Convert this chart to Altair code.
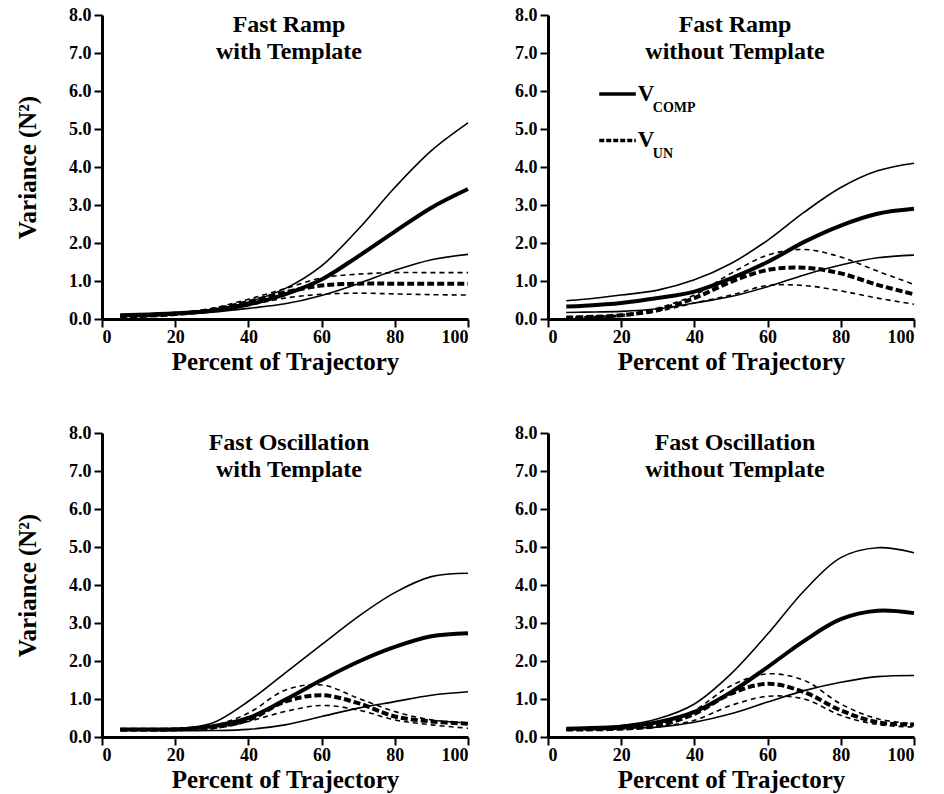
import altair as alt
import pandas as pd

FONT = "Liberation Serif"

X = [5, 10, 20, 30, 40, 50, 60, 70, 80, 90, 100]

TITLES = [
    "Fast Ramp\nwith Template",
    "Fast Ramp\nwithout Template",
    "Fast Oscillation\nwith Template",
    "Fast Oscillation\nwithout Template",
]

# Panel 1: Fast Ramp with Template
P1_COMP_MEAN = [0.10, 0.11, 0.15, 0.22, 0.38, 0.65, 1.04, 1.65, 2.30, 2.93, 3.42]
P1_COMP_HI = [0.12, 0.13, 0.17, 0.25, 0.45, 0.80, 1.40, 2.36, 3.46, 4.43, 5.16]
P1_COMP_LO = [0.08, 0.09, 0.12, 0.18, 0.28, 0.40, 0.62, 0.93, 1.28, 1.56, 1.70]
P1_UN_MEAN = [0.07, 0.08, 0.13, 0.24, 0.45, 0.70, 0.88, 0.93, 0.93, 0.93, 0.93]
P1_UN_HI = [0.08, 0.09, 0.15, 0.28, 0.52, 0.80, 1.08, 1.18, 1.22, 1.22, 1.22]
P1_UN_LO = [0.05, 0.06, 0.11, 0.20, 0.36, 0.55, 0.65, 0.68, 0.66, 0.64, 0.63]

# Panel 2: Fast Ramp without Template
P2_COMP_MEAN = [0.33, 0.35, 0.42, 0.55, 0.72, 1.07, 1.50, 2.03, 2.46, 2.77, 2.90]
P2_COMP_HI = [0.48, 0.52, 0.63, 0.76, 1.03, 1.46, 2.07, 2.81, 3.46, 3.90, 4.10]
P2_COMP_LO = [0.17, 0.18, 0.20, 0.27, 0.42, 0.59, 0.85, 1.16, 1.42, 1.61, 1.68]
P2_UN_MEAN = [0.04, 0.05, 0.10, 0.24, 0.55, 0.98, 1.29, 1.35, 1.20, 0.90, 0.65]
P2_UN_HI = [0.05, 0.06, 0.11, 0.29, 0.63, 1.20, 1.68, 1.83, 1.63, 1.26, 0.91]
P2_UN_LO = [0.03, 0.04, 0.07, 0.20, 0.42, 0.63, 0.88, 0.88, 0.74, 0.55, 0.39]

# Panel 3: Fast Oscillation with Template
P3_COMP_MEAN = [0.20, 0.20, 0.20, 0.28, 0.50, 0.98, 1.50, 1.98, 2.37, 2.65, 2.73]
P3_COMP_HI = [0.21, 0.21, 0.22, 0.36, 0.94, 1.68, 2.43, 3.17, 3.80, 4.22, 4.31]
P3_COMP_LO = [0.18, 0.18, 0.17, 0.17, 0.20, 0.32, 0.54, 0.76, 0.93, 1.10, 1.19]
P3_UN_MEAN = [0.19, 0.19, 0.20, 0.25, 0.45, 0.93, 1.10, 0.89, 0.54, 0.41, 0.35]
P3_UN_HI = [0.20, 0.20, 0.21, 0.29, 0.63, 1.23, 1.37, 1.02, 0.67, 0.45, 0.37]
P3_UN_LO = [0.18, 0.18, 0.19, 0.22, 0.41, 0.67, 0.83, 0.71, 0.45, 0.32, 0.23]

# Panel 4: Fast Oscillation without Template
P4_COMP_MEAN = [0.22, 0.23, 0.27, 0.39, 0.66, 1.18, 1.84, 2.53, 3.10, 3.32, 3.26]
P4_COMP_HI = [0.23, 0.24, 0.30, 0.48, 0.87, 1.66, 2.71, 3.85, 4.72, 4.98, 4.85]
P4_COMP_LO = [0.20, 0.21, 0.23, 0.26, 0.39, 0.61, 0.92, 1.22, 1.44, 1.59, 1.62]
P4_UN_MEAN = [0.20, 0.20, 0.22, 0.30, 0.61, 1.14, 1.40, 1.18, 0.70, 0.39, 0.33]
P4_UN_HI = [0.21, 0.21, 0.24, 0.33, 0.70, 1.35, 1.66, 1.49, 0.87, 0.48, 0.35]
P4_UN_LO = [0.19, 0.19, 0.21, 0.27, 0.44, 0.83, 1.07, 1.00, 0.57, 0.33, 0.26]

PANELS = [
    [P1_COMP_MEAN, P1_COMP_HI, P1_COMP_LO, P1_UN_MEAN, P1_UN_HI, P1_UN_LO],
    [P2_COMP_MEAN, P2_COMP_HI, P2_COMP_LO, P2_UN_MEAN, P2_UN_HI, P2_UN_LO],
    [P3_COMP_MEAN, P3_COMP_HI, P3_COMP_LO, P3_UN_MEAN, P3_UN_HI, P3_UN_LO],
    [P4_COMP_MEAN, P4_COMP_HI, P4_COMP_LO, P4_UN_MEAN, P4_UN_HI, P4_UN_LO],
]
SERIES = ["comp_mean", "comp_hi", "comp_lo", "un_mean", "un_hi", "un_lo"]

# Legend (top-right panel)
LEG_X1 = [14, 14]
LEG_X2 = [24, 24]
LEG_Y = [5.92, 4.7]
LEG_MAIN = ["V", "V"]
LEG_SUB = ["COMP", "UN"]
LEG_KIND = ["solid", "dash"]

W, H = 366, 304


def panel(i, show_ytitle):
    rows = []
    for s, vals in zip(SERIES, PANELS[i]):
        for x, y in zip(X, vals):
            rows.append({"series": s, "x": x, "y": y})
    df = pd.DataFrame(rows)
    xenc = alt.X(
        "x:Q",
        scale=alt.Scale(domain=[0, 100], nice=False),
        axis=alt.Axis(values=[0, 20, 40, 60, 80, 100], title="Percent of Trajectory",
                      titlePadding=3, labelPadding=1),
    )
    if show_ytitle:
        yaxis = alt.Axis(values=list(range(9)), format=".1f", title="Variance (N²)",
                         titlePadding=28, labelPadding=3)
    else:
        yaxis = alt.Axis(values=list(range(9)), format=".1f", title=None, labelPadding=3)
    yenc = alt.Y("y:Q", scale=alt.Scale(domain=[0, 8], nice=False), axis=yaxis)

    base = alt.Chart(df)
    thick_solid = base.transform_filter(alt.datum.series == "comp_mean").mark_line(
        color="black", strokeWidth=4, interpolate="catmull-rom").encode(x=xenc, y=yenc)
    thin_solid = base.transform_filter(
        (alt.datum.series == "comp_hi") | (alt.datum.series == "comp_lo")).mark_line(
        color="black", strokeWidth=1.6, interpolate="catmull-rom").encode(x=xenc, y=yenc, detail="series:N")
    thick_dash = base.transform_filter(alt.datum.series == "un_mean").mark_line(
        color="black", strokeWidth=4, strokeDash=[7, 3], interpolate="catmull-rom").encode(x=xenc, y=yenc)
    thin_dash = base.transform_filter(
        (alt.datum.series == "un_hi") | (alt.datum.series == "un_lo")).mark_line(
        color="black", strokeWidth=1.6, strokeDash=[5, 4], interpolate="catmull-rom").encode(x=xenc, y=yenc, detail="series:N")

    title = alt.Chart(pd.DataFrame({"t": [TITLES[i]]})).mark_text(
        font=FONT, fontSize=24, fontWeight="bold", baseline="top", align="center",
        lineBreak="\n", lineHeight=27, color="black",
    ).encode(text="t:N", x=alt.value(W / 2 + 4), y=alt.value(-2))

    layers = [thin_dash, thin_solid, thick_dash, thick_solid, title]

    if i == 1:
        leg = pd.DataFrame({"x": LEG_X1, "x2": LEG_X2, "y": LEG_Y, "main": LEG_MAIN,
                            "sub": LEG_SUB, "kind": LEG_KIND})
        lb = alt.Chart(leg)
        r1 = lb.transform_filter(alt.datum.kind == "solid").mark_rule(
            color="black", strokeWidth=3.5).encode(x=xenc, x2="x2:Q", y=yenc)
        r2 = lb.transform_filter(alt.datum.kind == "dash").mark_rule(
            color="black", strokeWidth=3.5, strokeDash=[5, 2]).encode(x=xenc, x2="x2:Q", y=yenc)
        lt = lb.transform_calculate(x="datum.x2")
        t1 = lt.mark_text(font=FONT, fontSize=23, fontWeight="bold", align="left",
                          baseline="middle", dx=2, color="black").encode(
            x=xenc, y=yenc, text="main:N")
        t2 = lt.mark_text(font=FONT, fontSize=14, fontWeight="bold", align="left",
                          baseline="middle", dx=17, dy=14, color="black").encode(
            x=xenc, y=yenc, text="sub:N")
        layers += [r1, r2, t1, t2]

    return alt.layer(*layers).properties(width=W, height=H)


top = alt.hconcat(panel(0, True), panel(1, False), spacing=38)
bottom = alt.hconcat(panel(2, True), panel(3, False), spacing=38)
chart = alt.vconcat(top, bottom, spacing=50).properties(
    padding={"left": 15, "top": 6, "right": 2, "bottom": 1}
).configure_view(stroke=None).configure_axis(
    grid=False,
    domainColor="black",
    domainWidth=3,
    tickColor="black",
    tickWidth=2,
    tickSize=8,
    labelFont=FONT,
    labelFontSize=18,
    labelFontWeight="bold",
    labelColor="black",
    titleFont=FONT,
    titleFontSize=25,
    titleFontWeight="bold",
    titleColor="black",
)

chart.save("out.html", embed_options={"renderer": "svg", "actions": False})
